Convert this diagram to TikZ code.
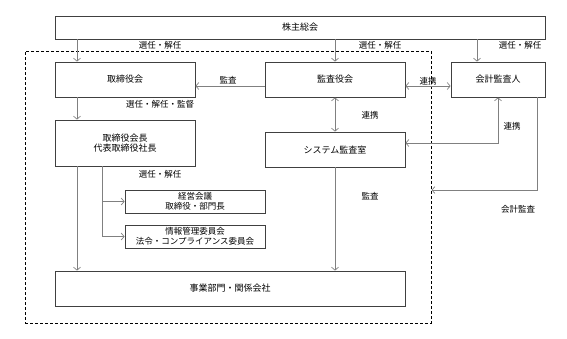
\documentclass[tikz,border=0pt]{standalone}
\usepackage{fontspec}
\setmainfont{Noto Sans CJK JP}
\usetikzlibrary{arrows.meta,calc}
\begin{document}
\begin{tikzpicture}[x=1pt,y=-1pt,
  box/.style={draw=black!75,line width=0.8pt,fill=white,inner sep=0pt,align=center,font=\fontsize{9}{10.5}\selectfont},
  arr/.style={draw=black!50,line width=0.7pt,-{Straight Barb[length=3pt,width=7pt]}},
  darr/.style={draw=black!50,line width=0.7pt,{Straight Barb[length=3pt,width=7pt]}-{Straight Barb[length=3pt,width=7pt]}},
  lbl/.style={inner sep=0pt,font=\fontsize{8.5}{10}\selectfont},
  frame/.style={draw=black,line width=1pt,dash pattern=on 3pt off 2pt,inner sep=0pt}]
\useasboundingbox (0,0) rectangle (567,338);
\node[frame,minimum width=406,minimum height=272] (fr) at (228,187) {};
\node[box,minimum width=490,minimum height=23] (sh) at (300,27.5) {株主総会};
\node[box,minimum width=140,minimum height=35] (bod) at (125,79.5) {取締役会};
\node[box,minimum width=140,minimum height=35] (kan) at (335,79.5) {監査役会};
\node[box,minimum width=94,minimum height=35] (kai) at (498,79.5) {会計監査人};
\node[box,minimum width=140,minimum height=46] (ceo) at (125,143) {取締役会長\\代表取締役社長};
\node[box,minimum width=140,minimum height=35] (sys) at (335,149.5) {システム監査室};
\node[box,minimum width=140,minimum height=23,font=\fontsize{8.5}{9.5}\selectfont] (kei) at (195,201.5) {経営会議\\取締役・部門長};
\node[box,minimum width=140,minimum height=23,font=\fontsize{8.5}{9.5}\selectfont] (jyo) at (195,236.5) {情報管理委員会\\法令・コンプライアンス委員会};
\node[box,minimum width=350,minimum height=35] (jig) at (230,288.5) {事業部門・関係会社};
\coordinate (xA) at (77,0);
\coordinate (xB) at (102,0);
\coordinate (xC) at (477,0);
\coordinate (xD) at (537,0);
\coordinate (yA) at (0,86);
\coordinate (yB) at (0,143);
\coordinate (yC) at (0,190);
% connectors
\draw[arr] (sh.south -| xA) -- (bod.north -| xA);
\draw[arr] (sh.south -| kan.north) -- (kan.north);
\draw[arr] (sh.south -| xC) -- (kai.north -| xC);
\draw[arr] (kan.west |- yA) -- (bod.east |- yA);
\draw[darr] (kan.east |- yA) -- (kai.west |- yA);
\draw[arr] (bod.south -| xA) -- (ceo.north -| xA);
\draw[darr] (kan.south) -- (sys.north);
\draw[darr] (kai.south) |- (sys.east |- yB);
\draw[arr] (kai.south -| xD) |- (fr.east |- yC);
\draw[arr] (ceo.south -| xA) -- (jig.north -| xA);
\draw[arr] (ceo.south -| xB) |- (kei.west);
\draw[arr] (ceo.south -| xB) |- (jyo.west);
\draw[arr] (sys.south) -- (jig.north -| sys.south);
% labels
\node[lbl] (l1) at (160,45) {選任・解任};
\node[lbl] (l2) at (380,45) {選任・解任};
\node[lbl] (l3) at (520,45) {選任・解任};
\node[lbl] (l4) at (228,80) {監査};
\node[lbl] (l5) at (428,81) {連携};
\node[lbl] (l6) at (160,104) {選任・解任・監督};
\node[lbl] (l7) at (370,115) {連携};
\node[lbl] (l8) at (512,126) {連携};
\node[lbl] (l9) at (160,174) {選任・解任};
\node[lbl] (l10) at (370,196) {監査};
\node[lbl] (l11) at (518,209) {会計監査};
\end{tikzpicture}
\end{document}
